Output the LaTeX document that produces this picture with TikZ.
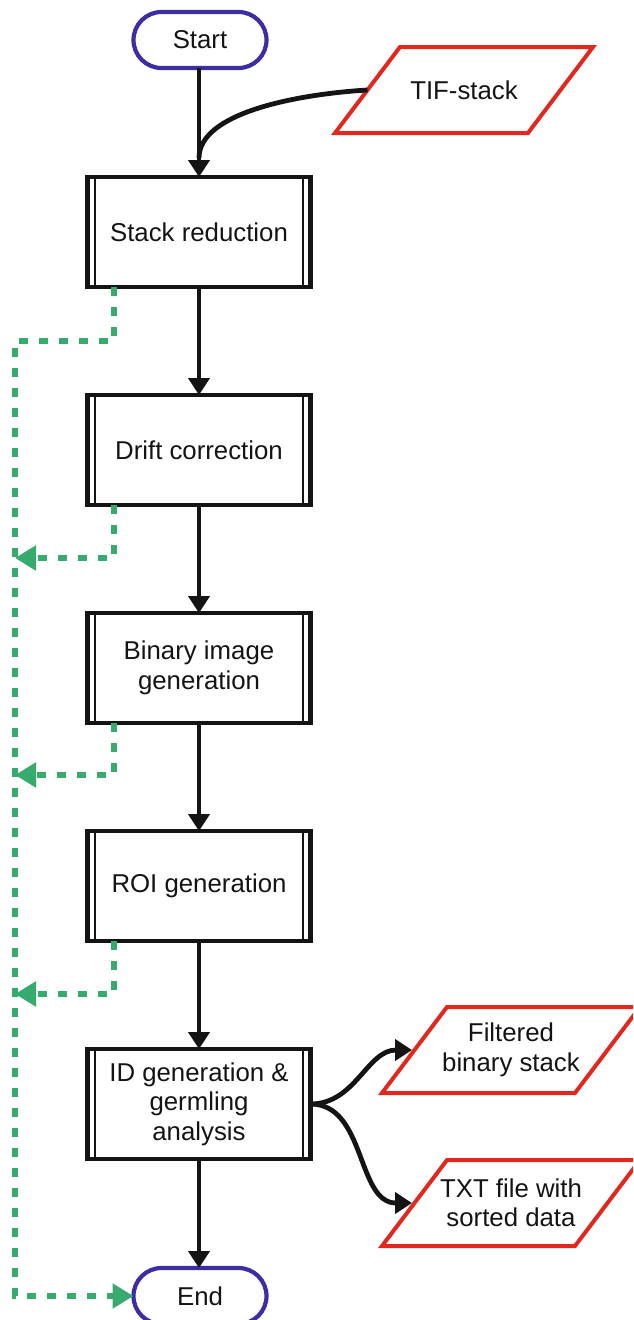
\documentclass[tikz,border=0pt]{standalone}
\usepackage{fontspec}
\setmainfont{Liberation Sans}
\usetikzlibrary{arrows.meta,calc}
\definecolor{termblue}{RGB}{60,45,160}
\definecolor{iored}{RGB}{225,40,30}
\definecolor{loopgreen}{RGB}{55,170,110}
\definecolor{ink}{RGB}{20,20,20}

% slanted data box drawn round a plain node: 65pt of slant over its height
\newcommand\iooutline[1]{%
  \draw[ioborder] ([xshift=65pt]#1.north west) -- (#1.north east)
    -- ([xshift=-65pt]#1.south east) -- (#1.south west) -- cycle;}

\begin{document}
\begin{tikzpicture}[x=1pt,y=-1pt,
  every node/.style={font=\fontsize{25.8}{29.5}\selectfont, text=ink, align=center},
  terminal/.style={draw=termblue, line width=4.2pt, rounded corners=28pt,
    minimum width=133pt, minimum height=56pt, outer sep=0pt},
  process/.style={draw=ink, line width=4.6pt, minimum width=223pt,
    minimum height=110pt, outer sep=0pt, inner sep=0pt,
    path picture={
      \draw[ink, line width=2.2pt]
        ([xshift=7.5pt]path picture bounding box.north west) --
        ([xshift=7.5pt]path picture bounding box.south west);
      \draw[ink, line width=2.2pt]
        ([xshift=-7.5pt]path picture bounding box.north east) --
        ([xshift=-7.5pt]path picture bounding box.south east);
    }},
  iodata/.style={minimum width=258pt, minimum height=86pt,
    outer sep=0pt, inner sep=0pt},
  ioborder/.style={draw=iored, line width=4pt, line join=miter},
  flow/.style={draw=ink, line width=4.8pt, -{Triangle[length=17pt,width=21pt]}},
  loop/.style={draw=loopgreen, line width=5.2pt, dash pattern=on 9pt off 11pt,
    -{Triangle[length=21pt,width=24pt]}},
]
\useasboundingbox (0,0) rectangle (633,1320);
\clip (0,0) rectangle (633,1320);

% terminals, steps and data
\node[terminal] (start) at (200,40) {Start};
\node[iodata] (tif) at (464,90) {TIF-stack};
\node[process] (sr) at (199,232) {Stack reduction};
\node[process] (dc) at (199,450) {Drift correction};
\node[process] (bi) at (199,668) {Binary image\\generation};
\node[process] (roi) at (199,886) {ROI generation};
\node[process] (id) at (199,1104) {ID generation \&\\germling\\analysis};
\node[iodata] (fil) at (511,1050) {Filtered\\binary stack};
\node[iodata] (txt) at (511,1203) {TXT file with\\sorted data};
\node[terminal] (end) at (200,1296) {End};
\iooutline{tif}
\iooutline{fil}
\iooutline{txt}

% main flow
\coordinate (merge) at (199,158);
\draw[flow] (start.south -| sr.north) -- (sr);
\draw[draw=ink, line width=4.8pt] ([xshift=32.5pt]tif.west)
  .. controls (300,94) and (199,112) .. (merge);
\draw[flow] (sr) -- (dc);
\draw[flow] (dc) -- (bi);
\draw[flow] (bi) -- (roi);
\draw[flow] (roi) -- (id);
\draw[flow] (id) -- (end.north -| id.south);
\draw[flow] (id.east) to[out=0,in=180] ([xshift=30pt]fil.west);
\draw[flow] (id.east) to[out=0,in=180] ([xshift=30pt]txt.west);

% side rail
\coordinate (r1) at (15,341);
\coordinate (r2) at (15,558);
\coordinate (r3) at (15,775);
\coordinate (r4) at (15,994);
\draw[loop] ([xshift=-85pt]sr.south) |- (r1) |- (end.west);
\draw[loop] ([xshift=-85pt]dc.south) |- (r2);
\draw[loop] ([xshift=-85pt]bi.south) |- (r3);
\draw[loop] ([xshift=-85pt]roi.south) |- (r4);
\end{tikzpicture}
\end{document}
